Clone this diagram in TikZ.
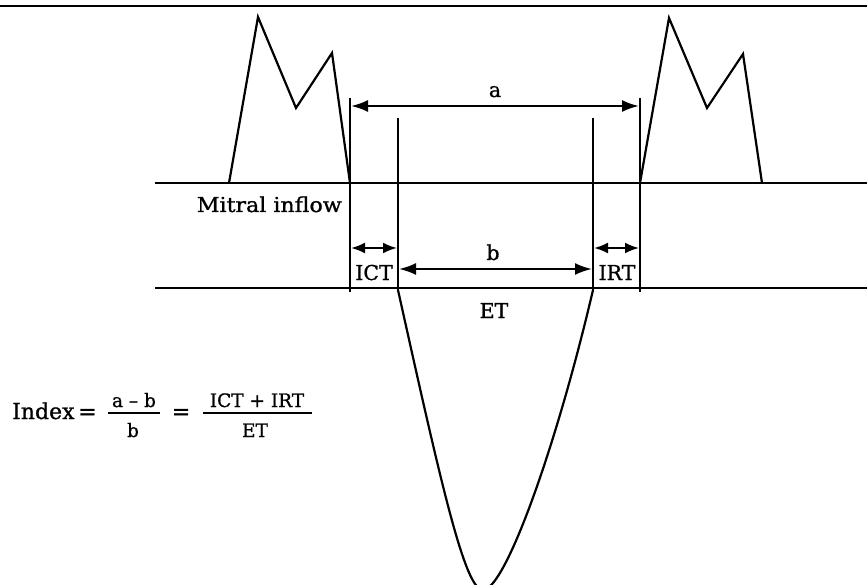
\documentclass[tikz,border=0pt]{standalone}
\usepackage{fontspec}
\setmainfont{DejaVu Serif}
\newfontfamily\lblfont[FakeBold=1]{DejaVu Serif}
\usetikzlibrary{arrows.meta}
\begin{document}
\begin{tikzpicture}[x=1pt,y=-1pt,
  wave/.style={line width=2.2pt, line join=miter},
  rule/.style={line width=2.2pt},
  dim/.style={line width=2.2pt, {Latex[length=17pt,width=12pt]}-{Latex[length=17pt,width=12pt]}},
  sdim/.style={line width=2.2pt, {Latex[length=14pt,width=11pt]}-{Latex[length=14pt,width=11pt]}},
  lbl/.style={inner sep=0pt, anchor=base, font=\lblfont\fontsize{20.5}{20.5}\selectfont},
  big/.style={inner sep=0pt, anchor=base, font=\lblfont\fontsize{22}{22}\selectfont},
  small/.style={inner sep=0pt, anchor=base, font=\lblfont\fontsize{18.5}{18.5}\selectfont}]
\useasboundingbox (0,0) rectangle (867,585);
% frame line at top
\coordinate (tl) at (0,6);
\coordinate (tr) at (867,6);
\draw[rule] (tl) -- (tr);
% baselines
\coordinate (m1) at (155,183);
\coordinate (m2) at (867,183);
\coordinate (e1) at (155,288);
\coordinate (e2) at (867,288);
\draw[rule] (m1) -- (m2);
\draw[rule] (e1) -- (e2);
% mitral inflow waves
\coordinate (L0) at (229,183);
\coordinate (L1) at (258,17);
\coordinate (L2) at (296,108);
\coordinate (L3) at (332,53);
\coordinate (L4) at (350,183);
\draw[wave] (L0) -- (L1) -- (L2) -- (L3) -- (L4);
\coordinate (R0) at (640,183);
\coordinate (R1) at (669,18);
\coordinate (R2) at (707,108);
\coordinate (R3) at (743,54);
\coordinate (R4) at (762,183);
\draw[wave] (R0) -- (R1) -- (R2) -- (R3) -- (R4);
% vertical markers
\coordinate (va1) at (350,98);
\coordinate (va2) at (350,292);
\coordinate (vb1) at (398,118);
\coordinate (vb2) at (398,290);
\coordinate (vc1) at (593,118);
\coordinate (vc2) at (593,290);
\coordinate (vd1) at (640,98);
\coordinate (vd2) at (640,292);
\draw[rule] (va1) -- (va2);
\draw[rule] (vb1) -- (vb2);
\draw[rule] (vc1) -- (vc2);
\draw[rule] (vd1) -- (vd2);
% dimension arrows
\coordinate (a1) at (351,106);
\coordinate (a2) at (639,106);
\draw[dim] (a1) -- (a2);
\coordinate (i1) at (351,248);
\coordinate (i2) at (397,248);
\draw[sdim] (i1) -- (i2);
\coordinate (b1) at (399,269);
\coordinate (b2) at (592,269);
\draw[dim] (b1) -- (b2);
\coordinate (r1) at (594,248);
\coordinate (r2) at (639,248);
\draw[sdim] (r1) -- (r2);
% ejection curve
\coordinate (p0) at (398,290);
\coordinate (pv) at (483,590);
\coordinate (p1) at (593,290);
\draw[wave] (p0) .. controls (442,488) and (465,590) .. (pv)
  .. controls (505,590) and (556,448) .. (p1);
% labels
\node[lbl] (la) at (495,97) {a};
\node[lbl] (lb) at (493,260) {b};
\node[lbl] (lict) at (374,280) {ICT};
\node[lbl] (lirt) at (617,280) {IRT};
\node[lbl] (let) at (494,318) {ET};
\node[lbl, anchor=base east] (lmi) at (342,212) {\scalebox{1.08}[1]{Mitral inflow}};
% index formula
\node[big, anchor=base west] (lidx) at (12,419) {Index\,=};
\node[small] (fn1) at (134,407) {a – b};
\node[small] (fd1) at (133,437) {b};
\coordinate (f1a) at (108,413);
\coordinate (f1b) at (160,413);
\draw[line width=1.6pt] (f1a) -- (f1b);
\node[big] (leq) at (181,419) {=};
\node[small] (fn2) at (257,407) {ICT + IRT};
\node[small] (fd2) at (255,437) {ET};
\coordinate (f2a) at (203,413);
\coordinate (f2b) at (312,413);
\draw[line width=1.6pt] (f2a) -- (f2b);
\end{tikzpicture}
\end{document}
